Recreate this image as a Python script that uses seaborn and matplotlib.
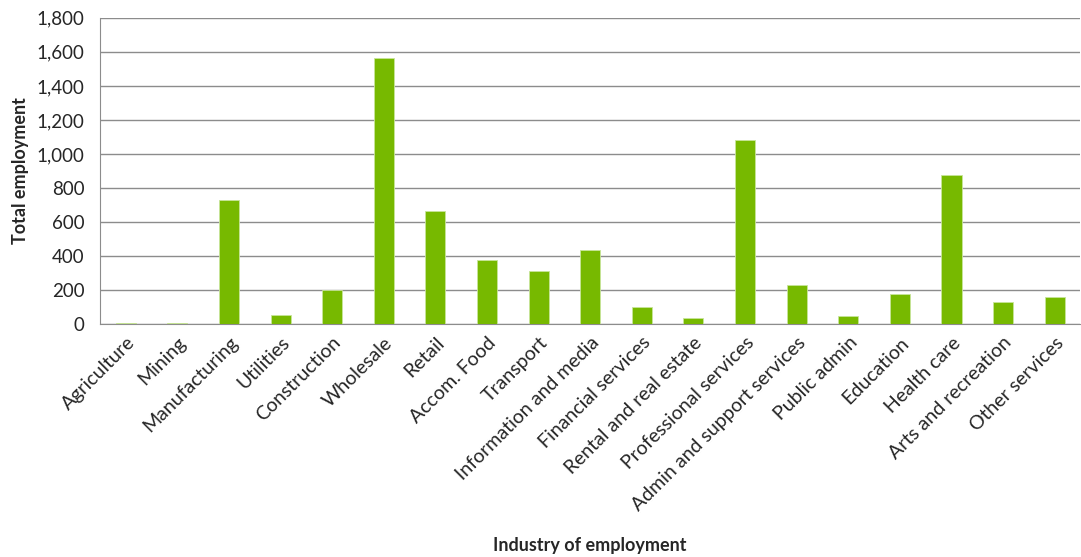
import numpy as np
import pandas as pd
import matplotlib
matplotlib.use("Agg")
import matplotlib.pyplot as plt
import seaborn as sns
from matplotlib.ticker import FuncFormatter, MultipleLocator

industries = ["Agriculture", "Mining", "Manufacturing", "Utilities", "Construction",
              "Wholesale", "Retail", "Accom. Food", "Transport", "Information and media",
              "Financial services", "Rental and real estate", "Professional services",
              "Admin and support services", "Public admin", "Education", "Health care",
              "Arts and recreation", "Other services"]
employment = [5, 4, 730, 53, 200, 1565, 665, 380, 312, 435, 100, 35, 1082, 229, 47,
              176, 876, 129, 159]

df = pd.DataFrame({"industry": industries, "employment": employment})

sns.set_style("white")
plt.rcParams['font.family'] = ['Lato', 'DejaVu Sans']

fig = plt.figure(figsize=(10.81, 5.57), dpi=100)
ax = fig.add_axes([0.0925, 0.418, 0.907, 0.55])

sns.barplot(data=df, x="industry", y="employment", color="#77B900", width=0.39,
            saturation=1, edgecolor="#C8E59A", linewidth=0.6, ax=ax, zorder=3)

ax.set_ylim(0, 1800)
ax.set_xlim(-0.5, len(industries) - 0.5)
ax.yaxis.set_major_locator(MultipleLocator(200))
ax.yaxis.set_major_formatter(FuncFormatter(lambda v, p: f"{int(v):,}"))
ax.grid(axis="y", color="#8C8C8C", linewidth=1, zorder=0)
ax.set_axisbelow(True)

for s in ["top", "right"]:
    ax.spines[s].set_visible(False)
ax.spines["left"].set_color("#8C8C8C")
ax.spines["bottom"].set_color("#8C8C8C")

ax.set_xticks(np.arange(len(industries)) - 0.5, minor=True)
ax.tick_params(axis="x", which="minor", length=6, color="#8C8C8C", width=1)
ax.tick_params(axis="x", which="major", length=0, pad=7)
ax.tick_params(axis="y", length=5, color="#8C8C8C", direction="out", left=False, pad=6)
ax.set_xticks(np.arange(len(industries)))
ax.set_xticklabels(industries, rotation=45, ha="right", rotation_mode="anchor", fontsize=14)
for lab in ax.get_yticklabels():
    lab.set_fontsize(13.5)

ax.set_xlabel("Industry of employment", fontsize=13, fontweight="bold")
ax.set_ylabel("Total employment", fontsize=13, fontweight="bold")
ax.xaxis.set_label_coords(0.4995, -0.695)
ax.yaxis.set_label_coords(-0.072, 0.5)

fig.savefig("out.png", dpi=100)
